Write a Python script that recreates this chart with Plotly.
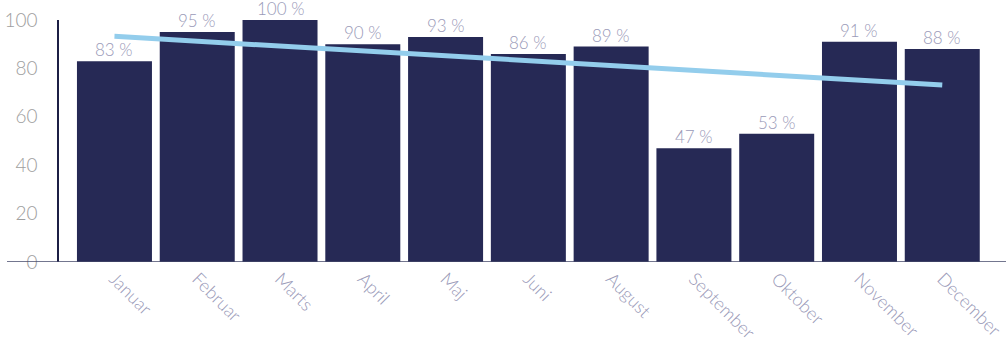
import numpy as np
import plotly.graph_objects as go

months = ["Januar", "Februar", "Marts", "April", "Maj", "Juni", "August",
          "September", "Oktober", "November", "December"]
values = [83, 95, 100, 90, 93, 86, 89, 47, 53, 91, 88]
labels = [f"{v} %" for v in values]

xi = np.arange(len(values))
slope, intercept = np.polyfit(xi, values, 1)
trend = slope * xi + intercept

W, H = 1006, 338
ml, mr, mt, mb = 59, 0, 20, 76

fig = go.Figure()
fig.add_trace(go.Bar(
    x=xi, y=values, marker=dict(color="#262955", line=dict(width=0)),
    hoverinfo="skip",
))
fig.add_trace(go.Scatter(
    x=[xi[0], xi[-1]], y=[trend[0], trend[-1]], mode="lines",
    line=dict(color="#93CDEC", width=5), hoverinfo="skip",
))

for x, v, t in zip(xi, values, labels):
    fig.add_annotation(x=x, y=v, text=t, showarrow=False, yanchor="bottom",
                       xanchor="center", yshift=-1,
                       font=dict(family="Lato", size=17, color="#9a9ab8", weight=300))

fig.update_layout(
    width=W, height=H, margin=dict(l=ml, r=mr, t=mt, b=mb, autoexpand=False),
    plot_bgcolor="white", paper_bgcolor="white", showlegend=False,
    bargap=0.094,
    xaxis=dict(range=[-0.67, 10.77], tickmode="array", tickvals=list(xi),
               ticktext=months, tickangle=45, showgrid=False, zeroline=False,
               tickfont=dict(family="Lato", size=18, color="#9a9ab8", weight=300),
               ticks="", showline=False, automargin=False, ticklabelstandoff=2,
               ticklabeloverflow="allow"),
    yaxis=dict(range=[0, 100], tickvals=[0, 20, 40, 60, 80, 100],
               showgrid=False, zeroline=False, showline=True,
               linecolor="#1c1f45", linewidth=1.5, ticks="",
               ticklabelstandoff=16, automargin=False,
               tickfont=dict(family="Lato", size=19, color="#9e9e9e", weight=300)),
)
fig.add_shape(type="line", xref="paper", yref="y",
              x0=(7 - ml) / (W - ml - mr), x1=1, y0=0, y1=0,
              line=dict(color="#45486a", width=1.5), layer="above")
fig.write_html("out.html", config={"displayModeBar": False},
               post_script="document.body.style.margin='0';")
